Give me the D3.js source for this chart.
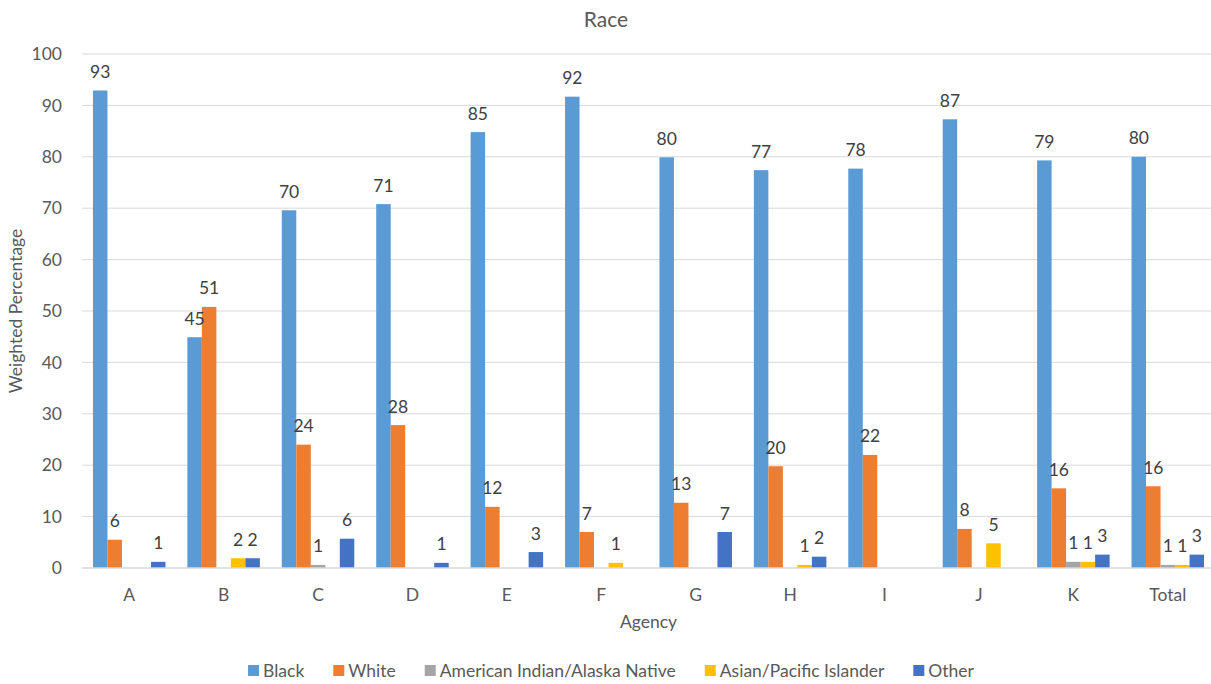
<!DOCTYPE html>
<html>
<head>
<meta charset="utf-8">
<script src="https://cdn.jsdelivr.net/npm/d3@7"></script>
<style>
  html, body { margin: 0; padding: 0; background: #fff; }
  svg { display: block; font-family: Lato, "Open Sans", sans-serif; }
</style>
</head>
<body>
<svg id="chart" width="1211" height="684"></svg>
<script>
const categories = ["A", "B", "C", "D", "E", "F", "G", "H", "I", "J", "K", "Total"];
const seriesNames = ["Black", "White", "American Indian/Alaska Native", "Asian/Pacific Islander", "Other"];
const blackValues = [92.9, 44.9, 69.6, 70.8, 84.8, 91.7, 79.9, 77.4, 77.7, 87.3, 79.3, 80.0];
const whiteValues = [5.5, 50.8, 24.0, 27.8, 11.9, 7.0, 12.7, 19.8, 22.0, 7.6, 15.5, 15.9];
const aianValues  = [0, 0, 0.6, 0, 0, 0, 0, 0, 0, 0, 1.2, 0.6];
const apiValues   = [0, 1.9, 0, 0, 0, 1.0, 0, 0.6, 0, 4.8, 1.2, 0.6];
const otherValues = [1.2, 1.9, 5.7, 1.0, 3.1, 0, 7.0, 2.2, 0, 0, 2.6, 2.6];
const yTicks = [0, 10, 20, 30, 40, 50, 60, 70, 80, 90, 100];
const colors = ["#5B9BD5", "#ED7D31", "#A5A5A5", "#FFC000", "#4472C4"];

const seriesValues = [blackValues, whiteValues, aianValues, apiValues, otherValues];

const svg = d3.select("#chart");
const textColor = "#595959";
const fs = 17.5;

const plot = { left: 82, right: 1215, top: 54, bottom: 568 };

const x = d3.scaleBand().domain(categories).range([plot.left, plot.right]).padding(0);
const step = x.bandwidth();
const xInner = d3.scaleBand().domain(seriesNames).range([step * 0.116, step * 0.884]).padding(0);
const y = d3.scaleLinear().domain([0, 100]).range([plot.bottom, plot.top]);

// title
svg.append("text")
  .attr("x", 606).attr("y", 27)
  .attr("text-anchor", "middle")
  .attr("font-size", 21).attr("fill", textColor)
  .text("Race");

// gridlines
svg.append("g").selectAll("line")
  .data(yTicks.filter(t => t > 0))
  .join("line")
  .attr("x1", plot.left).attr("x2", plot.right)
  .attr("y1", d => y(d)).attr("y2", d => y(d))
  .attr("stroke", "#D9D9D9").attr("stroke-width", 1);

// y axis labels
const yAxis = d3.axisLeft(y).tickValues(yTicks).tickSize(0).tickPadding(0);
const yg = svg.append("g").attr("transform", `translate(${plot.left - 20},0)`).call(yAxis);
yg.select(".domain").remove();
yg.selectAll("text").attr("font-size", fs).attr("fill", textColor).attr("font-family", "Lato, sans-serif");

// bars
const groups = svg.append("g").selectAll("g")
  .data(categories)
  .join("g")
  .attr("transform", d => `translate(${x(d)},0)`);

const cells = (ci) => seriesNames.map((s, si) => ({ s, si, v: seriesValues[si][ci] }));

groups.each(function (cat, ci) {
  const g = d3.select(this);
  const data = cells(ci);
  g.selectAll("rect")
    .data(data.filter(d => d.v > 0))
    .join("rect")
    .attr("x", d => xInner(d.s))
    .attr("width", xInner.bandwidth())
    .attr("y", d => y(d.v))
    .attr("height", d => y(0) - y(d.v))
    .attr("fill", d => colors[d.si]);
  g.selectAll("text")
    .data(data.filter(d => d.v > 0))
    .join("text")
    .attr("x", d => xInner(d.s) + xInner.bandwidth() / 2)
    .attr("y", d => y(d.v) - 12.5)
    .attr("text-anchor", "middle")
    .attr("font-size", fs)
    .attr("fill", "#404040")
    .text(d => Math.round(d.v));
});

// x axis line
svg.append("line")
  .attr("x1", plot.left).attr("x2", plot.right)
  .attr("y1", y(0)).attr("y2", y(0))
  .attr("stroke", "#D9D9D9").attr("stroke-width", 1.5);

// x axis labels
const xAxis = d3.axisBottom(x).tickSize(0).tickPadding(0);
const xg = svg.append("g").attr("transform", `translate(0,${plot.bottom + 33})`).call(xAxis);
xg.select(".domain").remove();
xg.selectAll("text").attr("font-size", fs).attr("fill", textColor).attr("font-family", "Lato, sans-serif").attr("dy", null);

// axis titles
svg.append("text")
  .attr("x", (plot.left + plot.right) / 2).attr("y", 628)
  .attr("text-anchor", "middle").attr("font-size", fs).attr("fill", textColor)
  .text("Agency");

svg.append("text")
  .attr("transform", `translate(22,${(plot.top + plot.bottom) / 2}) rotate(-90)`)
  .attr("text-anchor", "middle").attr("font-size", fs).attr("fill", textColor)
  .text("Weighted Percentage");

// legend
const legend = svg.append("g");
const items = legend.selectAll("g").data(seriesNames).join("g");
items.append("rect").attr("width", 11).attr("height", 11).attr("y", -6)
  .attr("fill", (d, i) => colors[i]);
items.append("text").attr("x", 15).attr("y", 6)
  .attr("font-size", fs).attr("fill", textColor)
  .text(d => d);
let widths = [];
items.each(function () { widths.push(15 + d3.select(this).select("text").node().getComputedTextLength()); });
const gap = 29;
const total = d3.sum(widths) + gap * (widths.length - 1);
let cx = 611 - total / 2;
items.attr("transform", (d, i) => {
  const t = `translate(${cx},671)`;
  cx += widths[i] + gap;
  return t;
});
</script>
</body>
</html>
